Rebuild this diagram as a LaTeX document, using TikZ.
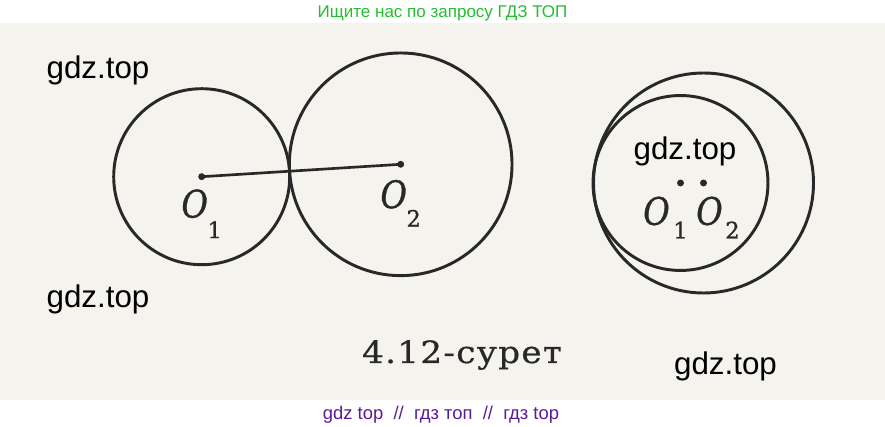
\documentclass[tikz,border=0pt]{standalone}
\usepackage{fontspec}
\usetikzlibrary{calc, positioning}
\newfontfamily\wmfont{Liberation Sans}
\newfontfamily\capfont[FakeStretch=1.12, LetterSpace=4, FakeBold=0.6]{DejaVu Serif}
\newfontfamily\labfont[FakeBold=1]{DejaVu Serif}
\definecolor{paper}{RGB}{245,243,238}
\definecolor{ink}{RGB}{40,40,40}
\definecolor{wmgreen}{RGB}{36,190,50}
\definecolor{wmpurple}{RGB}{88,28,150}
\newcommand{\ltr}{\scalebox{0.85}[1]{O}}
\tikzset{
  gcircle/.style={draw=ink, line width=2.2pt},
  gseg/.style={draw=ink, line width=2pt},
  gdot/.style={fill=ink},
  gletter/.style={inner sep=0pt, text=ink, font=\labfont\fontsize{28.5}{28.5}\selectfont\itshape},
  gindex/.style={inner sep=0pt, text=ink, font=\labfont\fontsize{17}{17}\selectfont},
  gmark/.style={inner sep=0pt, anchor=base, font=\wmfont\fontsize{23.5}{23.5}\selectfont},
}

\begin{document}
\begin{tikzpicture}[x=0.75pt, y=-0.75pt]
  % Page and scanned paper.
  \useasboundingbox (0,0) rectangle (885,427);
  \fill[white] (0,0) rectangle (885,427);
  \fill[paper] (0,23) rectangle (885,400);

  % Centres.
  \coordinate (A1) at (201.7,176.7);
  \coordinate (A2) at (400.7,164.3);
  \coordinate (B1) at (680.5,183);
  \coordinate (B2) at (703.5,183);

  % Externally tangent circles.
  \draw[gcircle] (A1) circle[radius=66pt];
  \draw[gcircle] (A2) circle[radius=83.5pt];
  \draw[gseg] (A1) -- (A2);
  \fill[gdot] (A1) circle[radius=2.6pt];
  \fill[gdot] (A2) circle[radius=2.6pt];
  \node[gletter] (a1o) at ($(A1)+(-7,27)$) {\ltr};
  \node[gindex] (a1i) at ($(A1)+(13,53)$) {1};
  \node[gletter] (a2o) at ($(A2)+(-7,30)$) {\ltr};
  \node[gindex] (a2i) at ($(A2)+(13,54)$) {2};

  % Internally tangent circles.
  \draw[gcircle] (B1) circle[radius=65.6pt];
  \draw[gcircle] (B2) circle[radius=82.5pt];
  \fill[gdot] (B1) circle[radius=2.6pt];
  \fill[gdot] (B2) circle[radius=2.6pt];
  \node[gletter] (b1o) at ($(B1)+(-24,28)$) {\ltr};
  \node[gindex] (b1i) at ($(B1)+(0,47)$) {1};
  \node[gletter] (b2o) at ($(B2)+(6,28)$) {\ltr};
  \node[gindex] (b2i) at ($(B2)+(29,47)$) {2};

  % Caption.
  \node[anchor=base, inner sep=0pt, text=ink, font=\capfont\fontsize{23}{23}\selectfont] (cap) at (462,363) {4.12-сурет};

  % Watermarks.
  \node[gmark, text=wmgreen, font=\wmfont\fontsize{12.75}{12.75}\selectfont] (top) at (442.5,18) {Ищите нас по запросу ГДЗ ТОП};
  \node[gmark] (wm1) at (98,79) {gdz.top};
  \node[gmark] (wm2) at (98,308) {gdz.top};
  \node[gmark] (wm3) at (685,160) {gdz.top};
  \node[gmark] (wm4) at (725.5,374) {gdz.top};
  \node[gmark, text=wmpurple, font=\wmfont\fontsize{13.8}{13.8}\selectfont] (bot) at (441,419) {gdz top\ \ //\ \ гдз топ\ \ //\ \ гдз top};
\end{tikzpicture}
\end{document}
